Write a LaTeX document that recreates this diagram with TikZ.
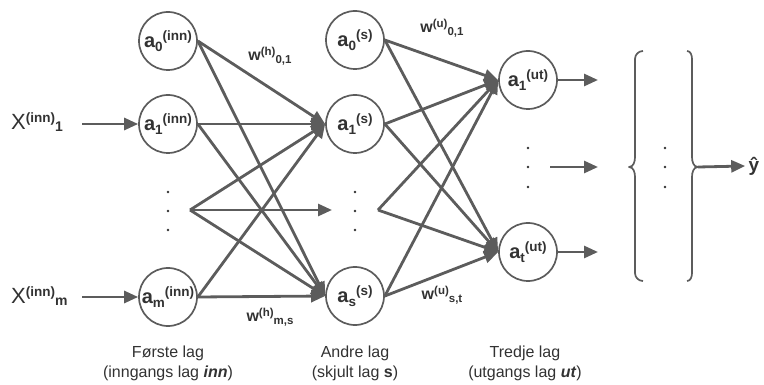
\documentclass[tikz,border=0pt]{standalone}
\usepackage{fontspec}
\setmainfont{Liberation Sans}
\usetikzlibrary{arrows.meta}
\definecolor{ln}{RGB}{92,92,92}
\definecolor{tx}{RGB}{50,50,50}
\newcommand\nsup[1]{\raisebox{7pt}{\fontsize{13.5}{14}\selectfont\bfseries #1}}
\newcommand\nsub[1]{\raisebox{-3.5pt}{\fontsize{13.5}{14}\selectfont\bfseries #1}}
\newcommand\wsup[1]{\raisebox{5.5pt}{\fontsize{11.5}{12}\selectfont\bfseries #1}}
\newcommand\wsub[1]{\raisebox{-2.5pt}{\fontsize{11.5}{12}\selectfont\bfseries #1}}
\newcommand\xsup[1]{\raisebox{7.5pt}{\fontsize{13.5}{14}\selectfont\bfseries #1}}
\newcommand\xsub[1]{\raisebox{-2pt}{\fontsize{14}{15}\selectfont\bfseries #1}}
\newcommand\na[2]{{\fontsize{20}{22}\selectfont\bfseries a}\nsub{#1}\nsup{#2}}
\begin{document}
\begin{tikzpicture}[x=1pt,y=-1pt,
  neuron/.style={circle,draw=ln,line width=1.7pt,minimum size=58pt,inner sep=0pt,text=tx},
  edge/.style={draw=ln,line width=2.8pt,-{Triangle[length=14pt,width=12pt]}},
  wlab/.style={text=tx,inner sep=0pt,font=\fontsize{16}{17}\selectfont\bfseries},
  xlab/.style={text=tx,inner sep=0pt,anchor=west,font=\fontsize{22}{24}\selectfont},
  caption/.style={text=tx,align=center,font=\fontsize{16}{20}\selectfont},
  dot/.style={circle,fill=tx,inner sep=0pt,minimum size=2.8pt},
  brace/.style={draw=ln,line width=1.7pt,line join=round}]
\useasboundingbox (0,0) rectangle (764,385);

% input layer
\node[neuron] (a0i) at (168,41) {\na{0}{(inn)}};
\node[neuron] (a1i) at (168,124) {\na{1}{(inn)}};
\node[neuron] (ami) at (168,297) {\na{m}{(inn)}};
\node[dot] (di1) at (168,192) {};
\node[dot] (di2) at (168,211) {};
\node[dot] (di3) at (168,230) {};
\coordinate (dis) at (190,210);
\coordinate (die) at (332,210);

% hidden layer
\node[neuron] (a0h) at (355,40) {\na{0}{(s)}};
\node[neuron] (a1h) at (355,124) {\na{1}{(s)}};
\node[neuron] (ash) at (355,296) {\na{s}{(s)}};
\node[dot] (dh1) at (355,192) {};
\node[dot] (dh2) at (355,211) {};
\node[dot] (dh3) at (355,230) {};
\coordinate (dhs) at (378,210);

% output layer
\node[neuron] (a1o) at (528,80) {\na{1}{(ut)}};
\node[neuron] (ato) at (528,252) {\na{t}{(ut)}};
\node[dot] (do1) at (528,148) {};
\node[dot] (do2) at (528,167) {};
\node[dot] (do3) at (528,187) {};
\coordinate (dos) at (550,167);
\coordinate (o1e) at (598,80);
\coordinate (o2e) at (598,167);
\coordinate (o3e) at (598,252);

% inputs
\node[xlab] (x1) at (11,122) {X\xsup{(inn)}\xsub{1}};
\node[xlab] (xm) at (11,296) {X\xsup{(inn)}\xsub{m}};
\coordinate (x1s) at (82,124);
\coordinate (xms) at (82,297);
\draw[edge] (x1s) -- (a1i.west);
\draw[edge] (xms) -- (ami.west);

% input -> hidden
\foreach \s in {a0i,a1i,ami}{
  \draw[edge] (\s.east) -- (a1h.west);
  \draw[edge] (\s.east) -- (ash.west);
}
\draw[edge] (dis) -- (a1h.west);
\draw[edge] (dis) -- (ash.west);
\draw[edge] (dis) -- (die);

% hidden -> output
\foreach \s in {a0h,a1h,ash}{
  \draw[edge] (\s.east) -- (a1o.west);
  \draw[edge] (\s.east) -- (ato.west);
}
\draw[edge] (dhs) -- (a1o.west);
\draw[edge] (dhs) -- (ato.west);

% output arrows
\draw[edge] (a1o.east) -- (o1e);
\draw[edge] (dos) -- (o2e);
\draw[edge] (ato.east) -- (o3e);

% braces
\draw[brace] (643,51) to[out=180,in=90] (635,59) -- (635,157)
  to[out=-90,in=0] (629,167) to[out=0,in=90] (635,177) -- (635,273)
  to[out=-90,in=180] (643,281);
\draw[brace] (687,51) to[out=0,in=90] (692,59) -- (692,157)
  to[out=-90,in=180] (698,167) to[out=180,in=90] (692,177) -- (692,273)
  to[out=-90,in=0] (687,281);
\node[dot] (db1) at (665,148) {};
\node[dot] (db2) at (665,167) {};
\node[dot] (db3) at (665,187) {};
\coordinate (rb) at (698,167);
\node[text=tx,font=\fontsize{19}{20}\selectfont\bfseries] (yhat) at (754,166) {ŷ};
\draw[edge] (rb) -- (yhat.west);

% weight labels
\node[wlab] (w1) at (270,56) {w\wsup{(h)}\wsub{0,1}};
\node[wlab] (w2) at (270,317) {w\wsup{(h)}\wsub{m,s}};
\node[wlab] (w3) at (442,28) {w\wsup{(u)}\wsub{0,1}};
\node[wlab] (w4) at (442,295) {w\wsup{(u)}\wsub{s,t}};

% captions
\node[caption] (c1) at (168,363) {Første lag\\(inngangs lag \textbf{\textit{inn}})};
\node[caption] (c2) at (355,363) {Andre lag\\(skjult lag \textbf{s})};
\node[caption] (c3) at (525,363) {Tredje lag\\(utgangs lag \textbf{\textit{ut}})};
\end{tikzpicture}
\end{document}
